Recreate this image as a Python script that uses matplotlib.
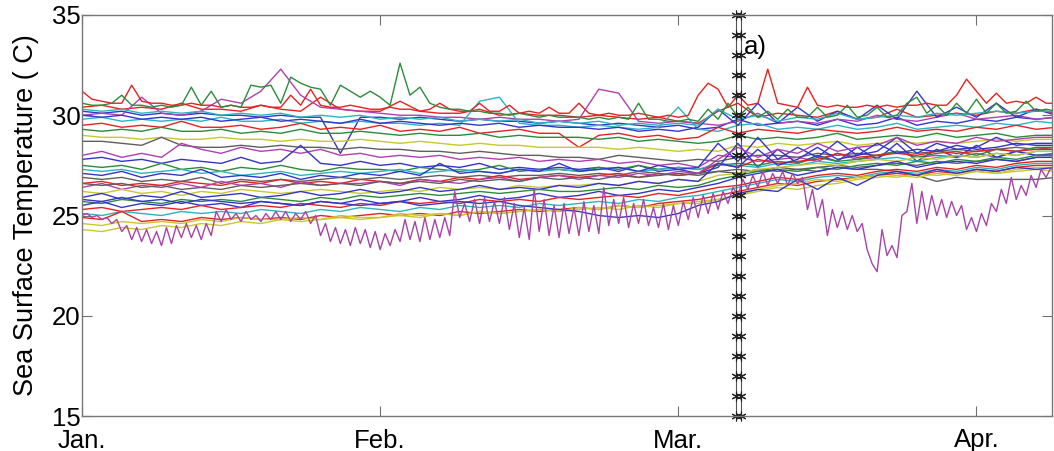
import numpy as np
import matplotlib
matplotlib.use("Agg")
import matplotlib.pyplot as plt

# ── data: SST traces (deg C) ─────────────────────────────────────────────
# most traces sampled every 2 days (day 0..98)
u3 = [30.4, 30.5, 30.3, 30.4, 30.3, 30.6, 30.3, 30.3, 30.2, 30.5, 30.3, 30.2, 30.9, 30.3, 30.2, 30.2, 30.7, 30.2, 30.1, 30.1, 30.3, 30.0, 30.1, 30.0, 30.0,
      29.9, 30.0, 29.9, 29.8, 29.9, 29.7, 29.6, 30.2, 30.6, 29.9, 30.1, 30.0, 29.9, 30.2, 29.8, 29.9, 30.3, 29.9, 30.0, 30.1, 30.0, 30.2, 30.1, 30.3, 30.1]
u4 = [30.2, 30.1, 30.2, 30.0, 30.1, 30.0, 30.1, 30.0, 30.0, 29.9, 30.0, 29.9, 29.9, 28.1, 29.9, 29.9, 29.8, 29.9, 29.8, 29.7, 29.8, 29.7, 29.7, 29.6, 29.7,
      29.6, 29.5, 29.6, 29.5, 29.4, 29.5, 29.3, 29.4, 29.8, 29.5, 29.6, 29.7, 29.5, 29.8, 29.5, 29.6, 29.9, 29.5, 29.7, 29.6, 29.8, 29.7, 29.9, 29.8, 29.9]
u5 = [30.0, 30.1, 30.0, 30.9, 30.1, 30.0, 30.2, 30.8, 30.6, 31.2, 32.3, 31.0, 30.4, 30.3, 30.2, 30.1, 30.0, 30.0, 29.9, 29.9, 29.8, 29.9, 29.8, 29.8, 29.7,
      29.8, 31.3, 31.1, 29.7, 29.6, 29.7, 29.6, 29.5, 29.7, 30.1, 29.6, 29.7, 29.6, 29.8, 29.7, 30.0, 29.8, 29.7, 29.9, 30.1, 29.8, 29.9, 30.0, 29.8, 29.9]
u6 = [29.8, 29.9, 29.7, 29.8, 29.7, 29.8, 29.7, 29.9, 29.7, 29.7, 29.8, 29.6, 29.7, 29.6, 29.7, 29.6, 29.6, 29.5, 29.6, 29.5, 30.7, 30.9, 29.6, 29.5, 29.5,
      29.4, 29.5, 29.4, 29.3, 29.4, 30.4, 29.3, 29.2, 29.5, 29.6, 29.3, 29.4, 29.3, 29.5, 29.3, 29.4, 29.6, 29.3, 29.4, 29.5, 29.4, 29.6, 29.5, 29.7, 29.6]
u7 = [29.5, 29.6, 29.4, 29.5, 29.4, 29.7, 29.4, 29.4, 29.5, 29.3, 29.4, 29.6, 29.3, 29.4, 29.3, 29.5, 29.2, 29.3, 29.2, 29.4, 29.1, 29.2, 29.3, 29.1, 29.1,
      28.4, 29.0, 29.1, 28.9, 29.0, 28.8, 28.9, 29.4, 29.1, 29.3, 29.2, 29.1, 29.3, 29.2, 29.1, 29.2, 29.4, 29.2, 29.3, 29.2, 29.4, 29.3, 29.5, 29.3, 29.4]
u8 = [29.3, 29.2, 29.3, 29.2, 29.4, 29.2, 29.2, 29.3, 29.1, 29.2, 29.1, 29.3, 29.1, 29.1, 29.2, 29.1, 29.0, 29.1, 29.0, 29.0, 29.1, 28.9, 29.0, 28.9, 28.9,
      28.9, 28.8, 28.9, 28.7, 28.8, 28.7, 28.6, 28.7, 29.0, 28.8, 28.9, 28.8, 28.9, 29.1, 28.8, 28.9, 29.0, 28.9, 29.1, 28.9, 29.0, 29.1, 28.9, 29.0, 29.0]
u9 = [29.0, 28.9, 28.9, 28.8, 28.9, 28.8, 28.8, 28.9, 28.8, 28.8, 28.7, 28.8, 28.7, 28.7, 28.8, 28.7, 28.6, 28.7, 28.6, 28.5, 28.6, 28.5, 28.5, 28.4, 28.4,
      28.4, 28.4, 28.3, 28.4, 28.3, 28.2, 28.3, 28.2, 28.5, 28.4, 28.6, 28.5, 28.6, 28.7, 28.5, 28.6, 28.7, 28.6, 28.7, 28.6, 28.7, 28.8, 28.7, 28.8, 28.8]
u10 = [28.7, 28.7, 28.6, 28.5, 28.9, 28.5, 28.4, 28.4, 28.5, 28.4, 28.5, 28.4, 28.4, 28.3, 28.4, 28.3, 28.3, 28.2, 28.2, 28.1, 28.2, 28.1, 28.0, 28.0, 27.9,
       27.9, 27.8, 28.0, 27.9, 27.8, 27.7, 27.8, 27.7, 27.9, 28.0, 28.0, 27.9, 28.1, 28.0, 28.1, 28.0, 28.2, 28.1, 28.2, 28.3, 28.2, 28.3, 28.4, 28.3, 28.4]
u11 = [30.0, 29.9, 30.0, 29.8, 29.9, 29.8, 29.9, 29.7, 29.8, 29.9, 29.7, 29.8, 29.7, 29.6, 29.8, 29.6, 29.7, 29.6, 29.5, 29.6, 29.5, 29.6, 29.4, 29.5, 29.4,
       29.4, 29.3, 29.4, 29.2, 29.3, 29.2, 29.4, 30.3, 29.5, 30.6, 29.6, 30.4, 29.7, 30.2, 29.8, 30.5, 29.8, 31.2, 29.9, 30.4, 29.9, 30.6, 29.9, 30.3, 30.0]
u12 = [30.3, 30.2, 30.3, 30.1, 30.2, 30.1, 30.2, 30.0, 30.1, 30.0, 30.1, 29.9, 30.0, 29.9, 30.0, 29.8, 29.9, 29.8, 29.9, 29.7, 29.8, 29.7, 29.8, 29.6, 29.7,
       29.6, 29.7, 29.5, 29.6, 29.5, 29.6, 29.5, 30.3, 29.8, 30.0, 29.7, 29.9, 29.8, 30.1, 29.8, 29.9, 30.0, 29.9, 30.1, 30.0, 30.1, 30.2, 30.1, 30.2, 30.2]
m1 = [28.0, 28.2, 27.9, 28.1, 27.9, 28.6, 28.3, 28.1, 28.4, 28.2, 28.3, 28.1, 28.3, 28.0, 28.1, 27.9, 28.0, 27.9, 28.0, 27.8, 27.9, 27.8, 27.9, 27.7, 27.8,
      27.7, 27.8, 27.6, 27.7, 27.5, 27.6, 27.4, 28.0, 27.9, 27.7, 27.8, 27.9, 27.7, 28.1, 27.8, 27.9, 28.2, 27.9, 28.0, 27.9, 28.1, 27.9, 28.2, 28.0, 28.0]
m2 = [27.8, 27.9, 27.7, 27.8, 27.6, 27.8, 27.7, 27.6, 27.9, 27.6, 27.7, 28.5, 27.6, 27.5, 27.7, 27.5, 27.6, 27.4, 27.5, 27.4, 27.6, 27.3, 27.4, 27.3, 27.4,
      27.3, 27.4, 27.2, 27.5, 27.2, 27.3, 27.1, 27.4, 28.6, 27.4, 28.3, 27.6, 28.0, 27.7, 28.4, 27.8, 28.6, 27.7, 28.3, 27.9, 28.5, 27.9, 28.2, 28.0, 28.1]
m3 = [27.5, 27.4, 27.5, 27.3, 27.6, 27.3, 27.4, 27.2, 27.4, 27.3, 27.5, 27.3, 27.2, 27.4, 27.3, 27.3, 27.2, 27.4, 27.3, 27.2, 27.3, 27.5, 27.2, 27.3, 27.3,
      27.2, 27.4, 27.3, 27.5, 27.3, 27.4, 27.3, 27.5, 27.6, 27.5, 27.7, 27.6, 27.9, 27.7, 27.8, 28.0, 28.2, 27.9, 28.1, 28.2, 28.0, 28.3, 28.2, 28.4, 28.4]
m4 = [27.3, 27.2, 27.3, 27.1, 27.2, 27.3, 27.1, 27.2, 27.0, 27.1, 27.2, 27.0, 27.1, 27.2, 27.1, 27.2, 27.3, 27.1, 27.2, 27.3, 27.2, 27.1, 27.3, 27.2, 27.3,
      27.2, 27.3, 27.4, 27.2, 27.3, 27.4, 27.3, 27.6, 27.5, 27.4, 27.6, 27.5, 27.7, 27.6, 27.7, 27.8, 27.9, 27.7, 27.9, 28.0, 27.9, 28.1, 28.0, 28.2, 28.2]
m5 = [27.1, 27.0, 27.2, 26.9, 27.1, 27.0, 27.3, 26.9, 27.0, 26.9, 27.1, 26.8, 27.0, 26.9, 27.1, 27.0, 27.2, 27.0, 27.6, 27.1, 27.2, 27.1, 27.3, 27.2, 27.6,
      27.2, 27.3, 27.4, 27.2, 27.5, 27.3, 27.4, 28.6, 27.7, 28.9, 27.8, 28.4, 27.9, 28.7, 28.0, 28.2, 28.9, 28.1, 28.6, 28.3, 28.4, 28.9, 28.5, 28.6, 28.6]
m6 = [26.9, 26.8, 26.9, 26.7, 26.8, 26.7, 26.9, 26.6, 26.8, 26.7, 26.8, 26.7, 26.8, 26.9, 26.8, 26.9, 26.8, 26.9, 27.0, 26.9, 27.0, 26.9, 27.0, 27.0, 27.1,
      27.0, 27.1, 27.0, 27.2, 27.1, 27.0, 27.1, 27.2, 27.3, 27.2, 27.4, 27.3, 27.4, 27.5, 27.4, 27.5, 27.6, 27.5, 27.7, 27.6, 27.7, 27.8, 27.7, 27.9, 27.9]
m7 = [26.6, 26.7, 26.5, 26.6, 26.5, 26.7, 26.6, 26.5, 26.7, 26.6, 26.8, 26.6, 26.7, 26.6, 26.8, 26.7, 26.6, 26.8, 26.7, 26.9, 26.8, 27.0, 26.8, 26.9, 27.0,
      26.9, 27.0, 27.1, 26.9, 27.1, 27.0, 27.1, 27.6, 27.4, 27.8, 27.6, 27.7, 27.8, 28.1, 27.9, 28.0, 28.1, 28.0, 28.2, 28.1, 28.2, 28.3, 28.2, 28.3, 28.3]
m8 = [26.4, 26.6, 26.3, 26.5, 26.4, 26.6, 26.4, 26.7, 26.5, 26.6, 26.4, 26.7, 26.5, 26.6, 26.6, 26.7, 26.5, 26.8, 26.7, 26.6, 26.8, 26.9, 26.7, 26.9, 27.0,
      26.8, 27.0, 26.9, 27.1, 27.0, 27.2, 27.1, 27.8, 28.4, 27.9, 28.3, 28.1, 28.6, 28.2, 28.4, 28.5, 28.9, 28.5, 28.7, 28.6, 28.9, 28.7, 28.8, 28.9, 28.9]
k2 = [26.6, 26.5, 26.6, 26.4, 26.5, 26.3, 26.4, 26.3, 26.5, 26.4, 26.5, 26.6, 26.5, 26.6, 26.5, 26.7, 26.6, 26.7, 26.6, 26.8, 26.7, 26.8, 26.7, 26.9, 26.8,
      26.9, 26.8, 27.0, 26.9, 27.0, 27.1, 27.0, 27.2, 27.1, 27.3, 27.2, 27.3, 27.2, 27.4, 27.3, 27.3, 27.2, 27.0, 26.7, 26.9, 26.8, 26.8, 26.8, 26.8, 26.9]
l1 = [26.2, 26.1, 26.3, 26.1, 26.2, 26.0, 26.2, 26.1, 26.3, 26.2, 26.1, 26.2, 26.3, 26.2, 26.1, 26.2, 26.3, 26.2, 26.4, 26.3, 26.4, 26.3, 26.5, 26.4, 26.5,
      26.5, 26.6, 26.5, 26.7, 26.6, 26.8, 26.7, 27.0, 27.1, 27.3, 27.4, 27.5, 27.6, 27.5, 27.7, 27.8, 27.7, 27.9, 27.8, 28.0, 27.9, 28.1, 28.0, 28.2, 28.2]
l2 = [25.9, 26.1, 25.8, 26.0, 25.9, 26.2, 25.9, 26.0, 26.1, 25.9, 26.0, 26.2, 26.0, 26.1, 26.3, 26.1, 26.2, 26.4, 26.2, 26.3, 26.5, 26.3, 26.4, 26.3, 26.5,
      26.4, 26.6, 26.5, 26.7, 26.6, 26.8, 26.7, 27.6, 27.4, 28.3, 27.5, 27.8, 28.4, 27.8, 28.0, 28.6, 28.1, 28.3, 28.2, 28.5, 28.3, 28.4, 28.6, 28.5, 28.5]
l3 = [25.7, 25.6, 25.8, 25.7, 25.6, 25.8, 25.7, 25.8, 25.7, 25.9, 25.8, 25.7, 25.9, 25.8, 26.0, 25.9, 26.0, 26.1, 26.0, 26.1, 26.2, 26.1, 26.2, 26.3, 26.2,
      26.2, 26.3, 26.4, 26.3, 26.5, 26.4, 26.5, 26.8, 27.0, 27.2, 27.3, 27.2, 27.4, 27.3, 27.5, 27.6, 27.5, 27.7, 27.6, 27.8, 27.7, 27.9, 27.8, 28.0, 28.0]
l4 = [25.5, 25.7, 25.4, 25.6, 25.5, 25.7, 25.5, 25.6, 25.4, 25.7, 25.6, 25.5, 25.7, 25.6, 25.8, 25.6, 25.7, 25.9, 25.7, 25.8, 26.0, 25.8, 25.9, 26.1, 25.9,
      26.0, 26.2, 26.0, 26.1, 26.3, 26.2, 26.4, 26.6, 26.9, 27.1, 27.3, 27.0, 27.2, 27.4, 27.3, 27.5, 27.7, 27.4, 27.6, 27.7, 27.6, 27.8, 27.7, 27.9, 27.9]
l5 = [25.3, 25.4, 25.2, 25.3, 25.4, 25.3, 25.5, 25.3, 25.4, 25.5, 25.4, 25.6, 25.5, 25.4, 25.6, 25.5, 25.7, 25.6, 25.7, 25.6, 25.8, 25.7, 25.8, 25.7, 25.9,
      25.8, 25.9, 26.0, 25.9, 26.1, 26.0, 26.2, 26.4, 26.5, 26.7, 26.9, 26.8, 27.0, 27.1, 27.0, 27.2, 27.3, 27.2, 27.4, 27.3, 27.5, 27.4, 27.6, 27.7, 27.7]
l6 = [25.1, 25.0, 25.2, 25.1, 25.0, 25.2, 25.1, 25.2, 25.1, 25.3, 25.2, 25.1, 25.3, 25.2, 25.4, 25.3, 25.2, 25.4, 25.3, 25.5, 25.4, 25.5, 25.4, 25.6, 25.5,
      25.6, 25.7, 25.6, 25.8, 25.7, 25.9, 26.0, 26.2, 26.4, 26.6, 26.8, 26.7, 26.9, 27.0, 26.9, 27.1, 27.2, 27.1, 27.3, 27.2, 27.4, 27.3, 27.5, 27.6, 27.6]
l7 = [24.9, 24.8, 25.2, 24.7, 24.8, 24.7, 24.9, 24.8, 24.9, 24.8, 24.9, 24.8, 25.0, 24.9, 25.0, 25.1, 25.0, 25.1, 25.0, 25.2, 25.1, 25.2, 25.3, 25.2, 25.3,
      25.4, 25.3, 25.5, 25.4, 25.6, 25.7, 25.8, 26.0, 26.2, 26.4, 26.6, 26.5, 26.7, 26.8, 26.9, 27.0, 27.1, 27.0, 27.2, 27.1, 27.3, 27.2, 27.4, 27.5, 27.5]
l8 = [24.6, 24.5, 24.7, 24.6, 24.7, 24.6, 24.8, 24.7, 24.9, 24.8, 24.8, 24.9, 24.8, 25.0, 24.9, 24.9, 25.1, 25.0, 25.1, 25.0, 25.2, 25.1, 25.2, 25.3, 25.2,
      25.3, 25.4, 25.3, 25.5, 25.4, 25.6, 25.7, 25.8, 26.0, 26.2, 26.4, 26.3, 26.5, 26.6, 26.8, 26.9, 27.0, 26.9, 27.1, 27.0, 27.2, 27.1, 27.3, 27.4, 27.4]
l9 = [24.3, 24.2, 24.4, 24.3, 24.5, 24.4, 24.6, 24.5, 24.7, 24.6, 24.8, 24.7, 24.8, 24.9, 24.8, 24.9, 25.0, 24.9, 25.1, 25.0, 25.2, 25.1, 25.2, 25.3, 25.2,
      25.4, 25.3, 25.5, 25.4, 25.5, 25.6, 25.6, 25.8, 26.0, 26.3, 26.5, 26.6, 26.8, 26.7, 26.9, 27.0, 26.9, 27.1, 27.0, 27.1, 27.2, 27.1, 27.2, 27.3, 27.2]
l10 = [25.8, 25.7, 25.9, 25.7, 25.8, 25.6, 25.8, 25.7, 25.6, 25.7, 25.6, 25.5, 25.7, 25.6, 25.5, 25.6, 25.7, 25.5, 25.6, 25.7, 25.6, 25.7, 25.5, 25.4, 25.3,
       25.2, 25.0, 24.9, 25.0, 24.9, 25.1, 25.5, 25.7, 26.1, 26.3, 26.2, 26.8, 26.3, 26.9, 26.5, 27.0, 27.2, 27.0, 27.3, 27.1, 27.3, 27.2, 27.4, 27.3, 27.4]

# top two traces sampled daily (day 0..98)
u1 = [31.2, 30.8, 30.7, 30.6, 30.6, 31.5, 30.7, 30.6, 30.6, 30.5,
      30.5, 30.6, 30.5, 30.5, 30.4, 30.5, 30.4, 30.4, 30.5, 30.4,
      30.4, 31.0, 30.5, 31.3, 30.5, 30.4, 30.4, 30.5, 30.4, 30.3,
      30.3, 30.4, 30.3, 30.3, 30.2, 30.3, 30.6, 30.3, 30.2, 30.2,
      30.6, 30.2, 30.2, 30.5, 30.1, 30.2, 30.1, 30.4, 30.1, 30.1,
      30.6, 30.1, 30.0, 30.1, 30.0, 30.0, 30.1, 30.0, 29.9, 30.0,
      29.9, 30.0, 31.0, 31.6, 31.3, 30.4, 31.0, 30.5, 30.6, 32.3,
      30.6, 30.5, 30.4, 31.4, 30.5, 30.4, 30.5, 30.4, 30.4, 30.5,
      30.4, 30.5, 30.4, 30.5, 30.5, 30.6, 30.5, 30.5, 31.0, 31.8,
      31.2, 30.6, 31.1, 30.6, 30.7, 30.6, 30.9, 30.6, 30.6]
u2 = [30.6, 30.5, 30.5, 30.6, 31.0, 30.5, 30.5, 30.4, 30.5, 30.4,
      30.5, 31.4, 30.5, 31.2, 30.4, 30.5, 30.4, 31.5, 31.4, 31.5,
      30.6, 31.9, 31.6, 31.4, 31.3, 30.5, 31.5, 31.2, 30.9, 31.2,
      30.9, 30.5, 32.6, 31.0, 31.4, 30.6, 30.4, 30.3, 30.3, 30.2,
      30.2, 30.1, 30.1, 30.0, 30.1, 30.0, 29.9, 30.0, 29.9, 29.9,
      29.9, 29.8, 29.9, 29.8, 29.9, 29.8, 30.6, 29.8, 29.8, 29.7,
      29.7, 29.8, 29.7, 30.3, 29.8, 30.6, 29.9, 30.4, 29.9, 30.2,
      29.8, 30.3, 29.9, 29.9, 30.4, 29.9, 30.0, 30.5, 29.9, 30.0,
      30.4, 29.9, 30.0, 30.6, 30.9, 30.1, 30.5, 30.0, 30.6, 30.1,
      30.8, 30.1, 30.6, 30.1, 30.2, 30.7, 30.2, 30.3, 30.2]

# coolest (magenta) trace, sampled every half day (day 0..98.5)
purple = [25.0, 25.1, 24.9, 25.0, 24.8, 24.9, 24.6, 24.8, 24.2, 24.5, 23.8, 24.4, 23.7, 24.3, 23.6, 24.2, 23.5, 24.4, 23.6, 24.5,
          23.9, 24.6, 23.9, 24.5, 23.8, 24.6, 24.0, 25.2, 24.7, 25.3, 24.8, 25.1, 24.7, 25.2, 24.8, 25.0, 24.7, 25.1, 24.8, 25.2,
          24.8, 25.2, 24.7, 25.1, 24.8, 25.2, 24.6, 25.0, 24.0, 24.6, 23.7, 24.4, 23.6, 24.3, 23.5, 24.4, 23.6, 24.3, 23.4, 24.2,
          23.3, 24.1, 23.5, 24.3, 23.7, 24.8, 23.8, 24.7, 23.7, 24.9, 23.8, 24.8, 23.9, 24.9, 24.0, 26.2, 24.9, 25.6, 24.7, 25.8,
          24.6, 25.9, 24.7, 25.7, 24.6, 25.9, 24.3, 25.6, 23.9, 25.4, 23.8, 26.3, 24.2, 25.8, 24.0, 25.5, 23.9, 25.6, 24.1, 25.4,
          24.0, 25.7, 24.2, 25.5, 24.1, 26.4, 24.5, 25.8, 24.6, 25.9, 24.4, 25.6, 24.6, 25.8, 24.5, 25.4, 24.4, 25.6, 24.3, 25.5,
          24.5, 25.7, 24.8, 25.9, 24.9, 26.0, 25.1, 26.1, 25.3, 26.2, 25.6, 26.4, 26.0, 26.8, 26.3, 27.0, 26.4, 27.2, 26.5, 27.1,
          26.6, 27.2, 26.5, 27.1, 26.6, 26.9, 25.3, 26.3, 24.9, 25.8, 24.0, 25.3, 24.4, 25.2, 24.3, 25.0, 24.2, 24.6, 23.3, 22.6,
          22.2, 24.3, 23.0, 23.5, 22.9, 25.0, 25.2, 26.6, 24.6, 26.2, 24.8, 26.0, 25.0, 25.8, 24.9, 25.7, 25.0, 25.5, 24.3, 24.9,
          24.2, 25.1, 24.5, 25.6, 25.2, 26.3, 25.6, 26.9, 25.8, 26.5, 26.0, 27.0, 26.4, 27.3, 26.9, 27.4, 27.0, 27.3]

month_ticks = [0, 30, 60, 90]
month_labels = ["Jan.", "Feb.", "Mar.", "Apr."]
event_day = [65.8, 66.3]            # the double marker line
marker_levels = np.arange(15, 36)

# MATLAB-like line colours
B, G, R, C, M, Y, K = "#3535c8", "#2a8c3a", "#e52222", "#2bb3be", "#b040b0", "#c8c82c", "#5f5f5f"

series2 = [(u3, R), (u4, B), (u5, M), (u6, C), (u7, R), (u8, G), (u9, Y), (u10, K),
           (u11, B), (u12, C), (m1, M), (m2, B), (m3, G), (m4, C), (m5, B), (m6, K),
           (m7, R), (m8, M), (k2, K), (l1, Y), (l2, B), (l3, G), (l4, B), (l5, R),
           (l6, C), (l7, R), (l8, Y), (l9, Y), (l10, B)]

plt.rcParams["font.family"] = ["Liberation Sans", "DejaVu Sans"]
fig = plt.figure(figsize=(10.54, 4.51), dpi=100)
ax = fig.add_axes([82 / 1054, 1 - 416 / 451, 970 / 1054, 401 / 451])

for vals, col in series2:
    ax.plot(np.arange(len(vals)) * 2, vals, color=col, lw=1.0)
ax.plot(np.arange(len(u1)), u1, color=R, lw=1.0)
ax.plot(np.arange(len(u2)), u2, color=G, lw=1.0)
ax.plot(np.arange(len(purple)) * 0.5, purple, color="#a843a8", lw=1.0)

# asterisk marker: 6 spokes, like MATLAB's '*'
for xd in event_day:
    ax.plot(np.full(len(marker_levels), xd), marker_levels, color="#555555",
            lw=0.8, marker=(6, 2, 0), ms=7, mew=0.8, mec="#222222", clip_on=False)
ax.text(66.6, 33.4, "a)", fontsize=18.5, va="center", ha="left")

ax.set_xlim(0, 97.6)
ax.set_ylim(15, 35)
ax.set_xticks(month_ticks)
ax.set_xticklabels(month_labels)
ax.set_yticks([15, 20, 25, 30, 35])
ax.tick_params(direction="in", length=7, width=0.8, color="#707070",
               labelsize=18.5, top=True, right=True)
ax.tick_params(axis="y", pad=1)
ax.tick_params(axis="x", pad=9)
for lab in ax.get_yticklabels():
    lab.set_verticalalignment("center_baseline")
for s in ax.spines.values():
    s.set_color("#777777")
    s.set_linewidth(1.0)
ax.set_ylabel("Sea Surface Temperature ( C)", fontsize=19.5, labelpad=9)

fig.savefig("out.png", dpi=100)
